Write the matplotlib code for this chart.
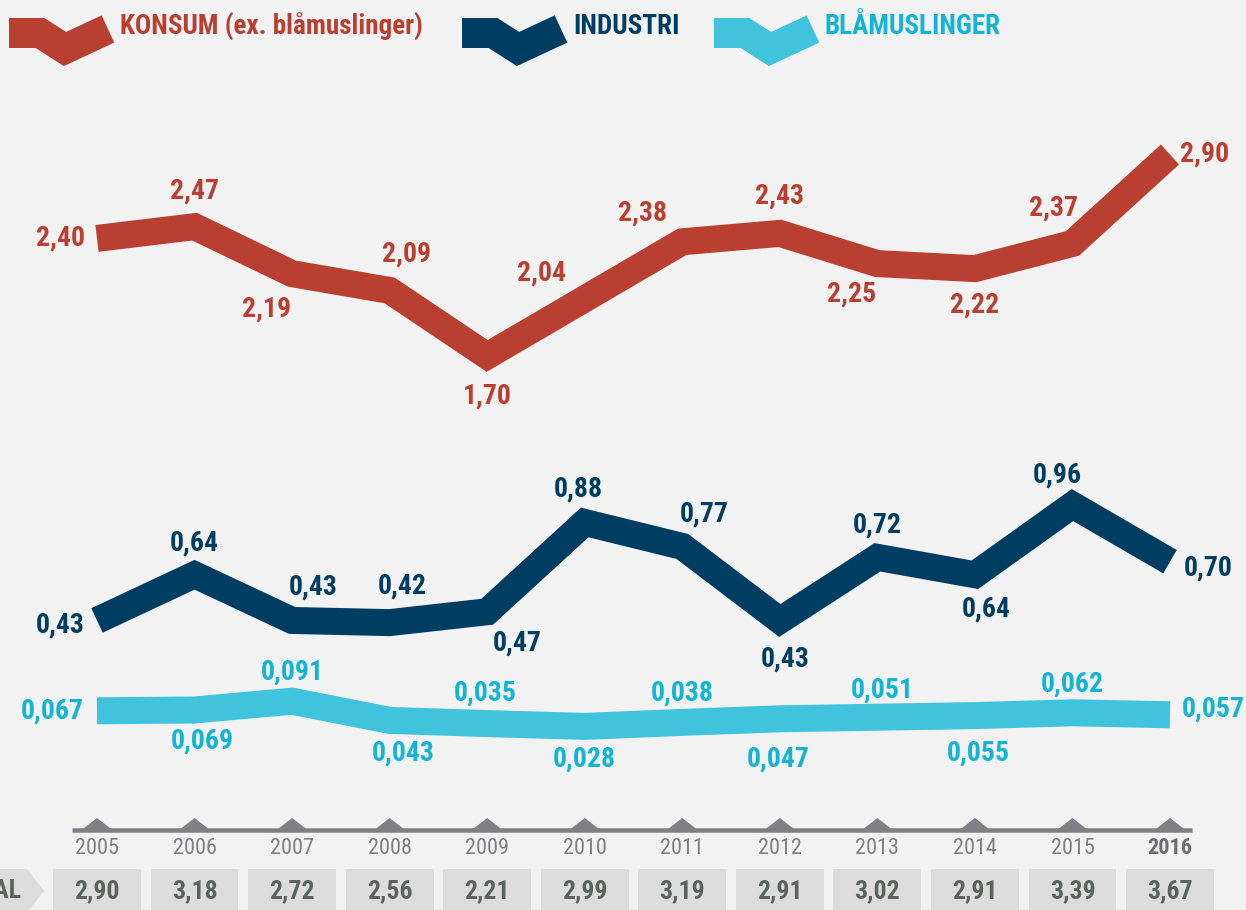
import matplotlib
matplotlib.use("Agg")
import matplotlib.pyplot as plt
from matplotlib import font_manager
from matplotlib.patches import Polygon, Rectangle

# ---- data -------------------------------------------------------------
years    = [2005, 2006, 2007, 2008, 2009, 2010, 2011, 2012, 2013, 2014, 2015, 2016]
konsum   = [2.40, 2.47, 2.19, 2.09, 1.70, 2.04, 2.38, 2.43, 2.25, 2.22, 2.37, 2.90]
industri = [0.43, 0.64, 0.43, 0.42, 0.47, 0.88, 0.77, 0.43, 0.72, 0.64, 0.96, 0.70]
blaskjell = [0.067, 0.069, 0.091, 0.043, 0.035, 0.028, 0.038, 0.047, 0.051, 0.055, 0.062, 0.057]
total    = [2.90, 3.18, 2.72, 2.56, 2.21, 2.99, 3.19, 2.91, 3.02, 2.91, 3.39, 3.67]

# ---- style ------------------------------------------------------------
BG      = "#f2f2f2"
RED     = "#b94030"
NAVY    = "#003d63"
CYAN    = "#40c3dc"
CYAN_TX = "#14b4d4"
GREY    = "#7f8083"
BOXGREY = "#dcdcdc"
TOTTX   = "#5d625f"

names = {f.name for f in font_manager.fontManager.ttflist}
FONT = "Liberation Sans"
for cand in ["Liberation Sans Narrow", "Roboto Condensed", "DejaVu Sans Condensed"]:
    if cand in names:
        FONT = cand
        break
plt.rcParams["font.family"] = [FONT, "DejaVu Sans"]

W, H = 1246, 910
LW = 27 * 72 / 100          # ~27 px thick ribbons
XLIM = (-0.9944, 11.779)    # index 0 -> px 97, index 11 -> px 1170

# label offsets in pixels (dx, dy) relative to each point
off_konsum = [(-37, 0), (0, 36), (-26, -35), (17, 36), (0, -40), (-43, 26),
              (-40, 29), (0, 37), (-26, -31), (0, -36), (-19, 35), (35, 0)]
off_industri = [(-37, -5), (0, 32), (21, 33), (13, 37), (30, -31), (-6, 33),
                (22, 32), (5, -39), (0, 32), (11, -34), (-15, 30), (38, -6)]
off_bla = [(-45, 0), (8, -31), (0, 29), (14, -33), (-2, 30), (0, -33),
           (0, 29), (-2, -40), (5, 27), (3, -38), (0, 29), (43, 6)]

fig = plt.figure(figsize=(W / 100, H / 100), dpi=100)
fig.patch.set_facecolor(BG)

# pixel-space overlay for legend and TOTAL arrow
bg = fig.add_axes([0, 0, 1, 1])
bg.set_xlim(0, W)
bg.set_ylim(H, 0)
bg.axis("off")
bg.patch.set_alpha(0)

# index-x / pixel-y axes for the bottom scale
ax0 = fig.add_axes([0, 0, 1, 1])
ax0.set_xlim(*XLIM)
ax0.set_ylim(H, 0)
ax0.axis("off")
ax0.patch.set_alpha(0)

x = list(range(len(years)))


def draw_series(vals, ylim, color, txcolor, offsets, fmt):
    ax = fig.add_axes([0, 0, 1, 1])
    ax.set_xlim(*XLIM)
    ax.set_ylim(*ylim)
    ax.axis("off")
    ax.patch.set_alpha(0)
    ax.plot(x, vals, color=color, lw=LW, solid_joinstyle="miter",
            solid_capstyle="butt", zorder=3)
    for xi, v, (dx, dy) in zip(x, vals, offsets):
        ax.annotate(fmt.format(v).replace(".", ","), (xi, v), xytext=(dx, dy),
                    textcoords="offset pixels", ha="center", va="center",
                    fontsize=20, fontweight="bold", color=txcolor, zorder=4)


draw_series(konsum, (-1.60, 3.82), RED, RED, off_konsum, "{:.2f}")
draw_series(industri, (-0.90, 3.28), NAVY, NAVY, off_industri, "{:.2f}")
draw_series(blaskjell, (-0.431, 1.844), CYAN, CYAN_TX, off_bla, "{:.3f}")

# ---- legend -----------------------------------------------------------
icon_x = [9, 40, 65, 108]
icon_y = [33, 33, 49, 29]
legend = [("KONSUM (ex. blåmuslinger)", RED, RED, 0, 120),
          ("INDUSTRI", NAVY, NAVY, 453, 573),
          ("BLÅMUSLINGER", CYAN, CYAN_TX, 705, 825)]
for label, c, tc, shift, tx in legend:
    bg.plot([p + shift for p in icon_x], icon_y, color=c, lw=30 * 72 / 100,
            solid_joinstyle="miter", solid_capstyle="butt")
    bg.text(tx, 27, label, color=tc, fontsize=19.5, fontweight="bold",
            ha="left", va="center")

# ---- bottom scale -----------------------------------------------------
ax0.plot([x[0] - 0.26, x[-1] + 0.23], [830, 830], color=GREY, lw=4.5 * 72 / 100,
         solid_capstyle="butt")
for xi, yr in zip(x, years):
    ax0.add_patch(Polygon([(xi - 0.145, 829), (xi, 818), (xi + 0.145, 829)],
                          closed=True, color=GREY, lw=0))
    last = yr == years[-1]
    ax0.text(xi, 848, str(yr), ha="center", va="center", fontsize=16,
             color="#6d6e71" if last else GREY,
             fontweight="bold" if last else "normal")

for xi, t in zip(x, total):
    ax0.add_patch(Rectangle((xi - 0.45, 869), 0.9, 50, color=BOXGREY, lw=0))
    ax0.text(xi, 891, f"{t:.2f}".replace(".", ","), ha="center", va="center",
             fontsize=18.5, fontweight="bold", color=TOTTX)

# "TOTAL" row header: only its tail is inside the canvas, as in the source
bg.add_patch(Polygon([(0, 869), (27, 869), (44, 891), (27, 913), (0, 913)],
                     closed=True, color=BOXGREY, lw=0))
bg.text(21, 891, "TOTAL", ha="right", va="center", fontsize=18.5,
        fontweight="bold", color=TOTTX)

fig.savefig("out.png", dpi=100, facecolor=BG)
